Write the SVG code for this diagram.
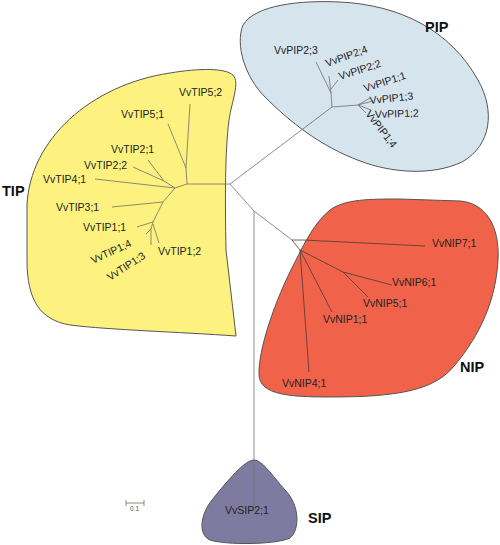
<svg xmlns="http://www.w3.org/2000/svg" width="500" height="545" viewBox="0 0 500 545">
<style>
.blob{stroke:#555;stroke-width:1}
.br{fill:none;stroke:#707070;stroke-width:0.8}
.brd{fill:none;stroke:#4a3a36;stroke-width:0.8}
.lf{font-family:"Liberation Sans",Arial,sans-serif;font-size:10.5px;fill:#222}
.cl{font-family:"Liberation Sans",Arial,sans-serif;font-size:14.5px;font-weight:bold;fill:#111}
.sc{font-family:"Liberation Sans",Arial,sans-serif;font-size:6.5px;fill:#555}
</style>
<rect width="500" height="545" fill="#fff"/>
<g id="clade-PIP">
<path class="blob" fill="#D6E4EE" d="M243,25 C255,5 300,0 340,2 C400,5 450,30 478,80 C495,110 492,145 462,162 C432,176 392,173 360,161 C320,146 290,122 265,97 C245,77 235,45 243,25 Z"/>
<text class="cl" x="425" y="32">PIP</text>
</g>
<g id="clade-TIP">
<path class="blob" fill="#FDF27F" d="M170,73 C200,68 225,68 233,75 C240,83 232,100 229,120 C225,150 225,200 226,250 L236,336 C180,332 110,330 70,325 C40,320 27,300 27,260 L27,205 C30,140 90,85 170,73 Z"/>
<text class="cl" x="2" y="196">TIP</text>
</g>
<g id="clade-NIP">
<path class="blob" fill="#F0624A" d="M330,210 C345,199 370,199 400,199 L460,201 C485,203 500,225 498,260 C496,300 480,335 455,365 C435,390 400,397 330,397 C290,397 260,395 259,375 C258,350 275,300 295,262 C305,242 315,222 330,210 Z"/>
<text class="cl" x="460" y="372">NIP</text>
</g>
<g id="clade-SIP">
<path class="blob" fill="#7F7BA0" d="M254,460 C262,460 272,475 285,490 C300,505 300,530 290,538 C275,545 225,545 210,540 C198,535 200,515 212,500 C228,480 245,460 254,460 Z"/>
<text class="cl" x="308" y="523">SIP</text>
</g>
<g id="connectors">
<path class="br" d="M230,184 L187,184 M230,184 L332,107 M230,184 L254,211 L292,240 M254,211 L254,508"/>
<path class="br" d="M332,107 L331,93 M331,93 L316,62 M331,93 L329,76 M331,89 L338,80 M332,107 L358,105 M358,105 L370,98 M358,105 L373,101 M358,105 L371,110 M358,105 L366,113"/>
<path class="br" d="M187,184 L186,168 M186,168 L190,104 M186,168 L168,124 M187,184 L175,188 M175,188 L95,179 M175,188 L164,181 M164,181 L148,160 M164,181 L133,167 M175,188 L163,202 M163,202 L112,207 M163,202 L153,222 M153,222 L137,227 M153,222 L151,229 M151,229 L151,245 M151,229 L146,234 M153,224 L159,243"/>
<path class="brd" d="M292,240 L303,240 L425,246 M292,240 L300,250 M300,250 L309,372 M300,250 L332,312 M300,250 L343,272 M343,272 L392,285 M343,272 L368,297"/>
</g>
<g id="leaves-PIP">
<text class="lf" x="274" y="54">VvPIP2;3</text>
<text class="lf" x="327" y="67" transform="rotate(-20 327 67)">VvPIP2;4</text>
<text class="lf" x="340" y="80" transform="rotate(-18 340 80)">VvPIP2;2</text>
<text class="lf" x="365" y="92" transform="rotate(-18 365 92)">VvPIP1;1</text>
<text class="lf" x="370" y="104" transform="rotate(-6 370 104)">VvPIP1;3</text>
<text class="lf" x="375" y="118" transform="rotate(-2 375 118)">VvPIP1;2</text>
<text class="lf" x="365" y="114" transform="rotate(52 365 114)">VvPIP1;4</text>
</g>
<g id="leaves-TIP">
<text class="lf" x="179" y="96">VvTIP5;2</text>
<text class="lf" x="121" y="118">VvTIP5;1</text>
<text class="lf" x="111" y="153">VvTIP2;1</text>
<text class="lf" x="84" y="169">VvTIP2;2</text>
<text class="lf" x="43" y="183">VvTIP4;1</text>
<text class="lf" x="56" y="211">VvTIP3;1</text>
<text class="lf" x="83" y="231">VvTIP1;1</text>
<text class="lf" x="158" y="255">VvTIP1;2</text>
<text class="lf" x="93" y="264" transform="rotate(-25 93 264)">VvTIP1;4</text>
<text class="lf" x="110" y="281" transform="rotate(-33 110 281)">VvTIP1;3</text>
</g>
<g id="leaves-NIP">
<text class="lf" x="432" y="247">VvNIP7;1</text>
<text class="lf" x="392" y="286">VvNIP6;1</text>
<text class="lf" x="363" y="307">VvNIP5;1</text>
<text class="lf" x="323" y="323">VvNIP1;1</text>
<text class="lf" x="282" y="387">VvNIP4;1</text>
</g>
<g id="leaves-SIP">
<text class="lf" x="225" y="514">VvSIP2;1</text>
</g>
<g id="scale">
<path class="br" d="M126,503 L144,503 M126,500 L126,506 M144,500 L144,506"/>
<text class="sc" x="130" y="511">0.1</text>
</g>
</svg>
